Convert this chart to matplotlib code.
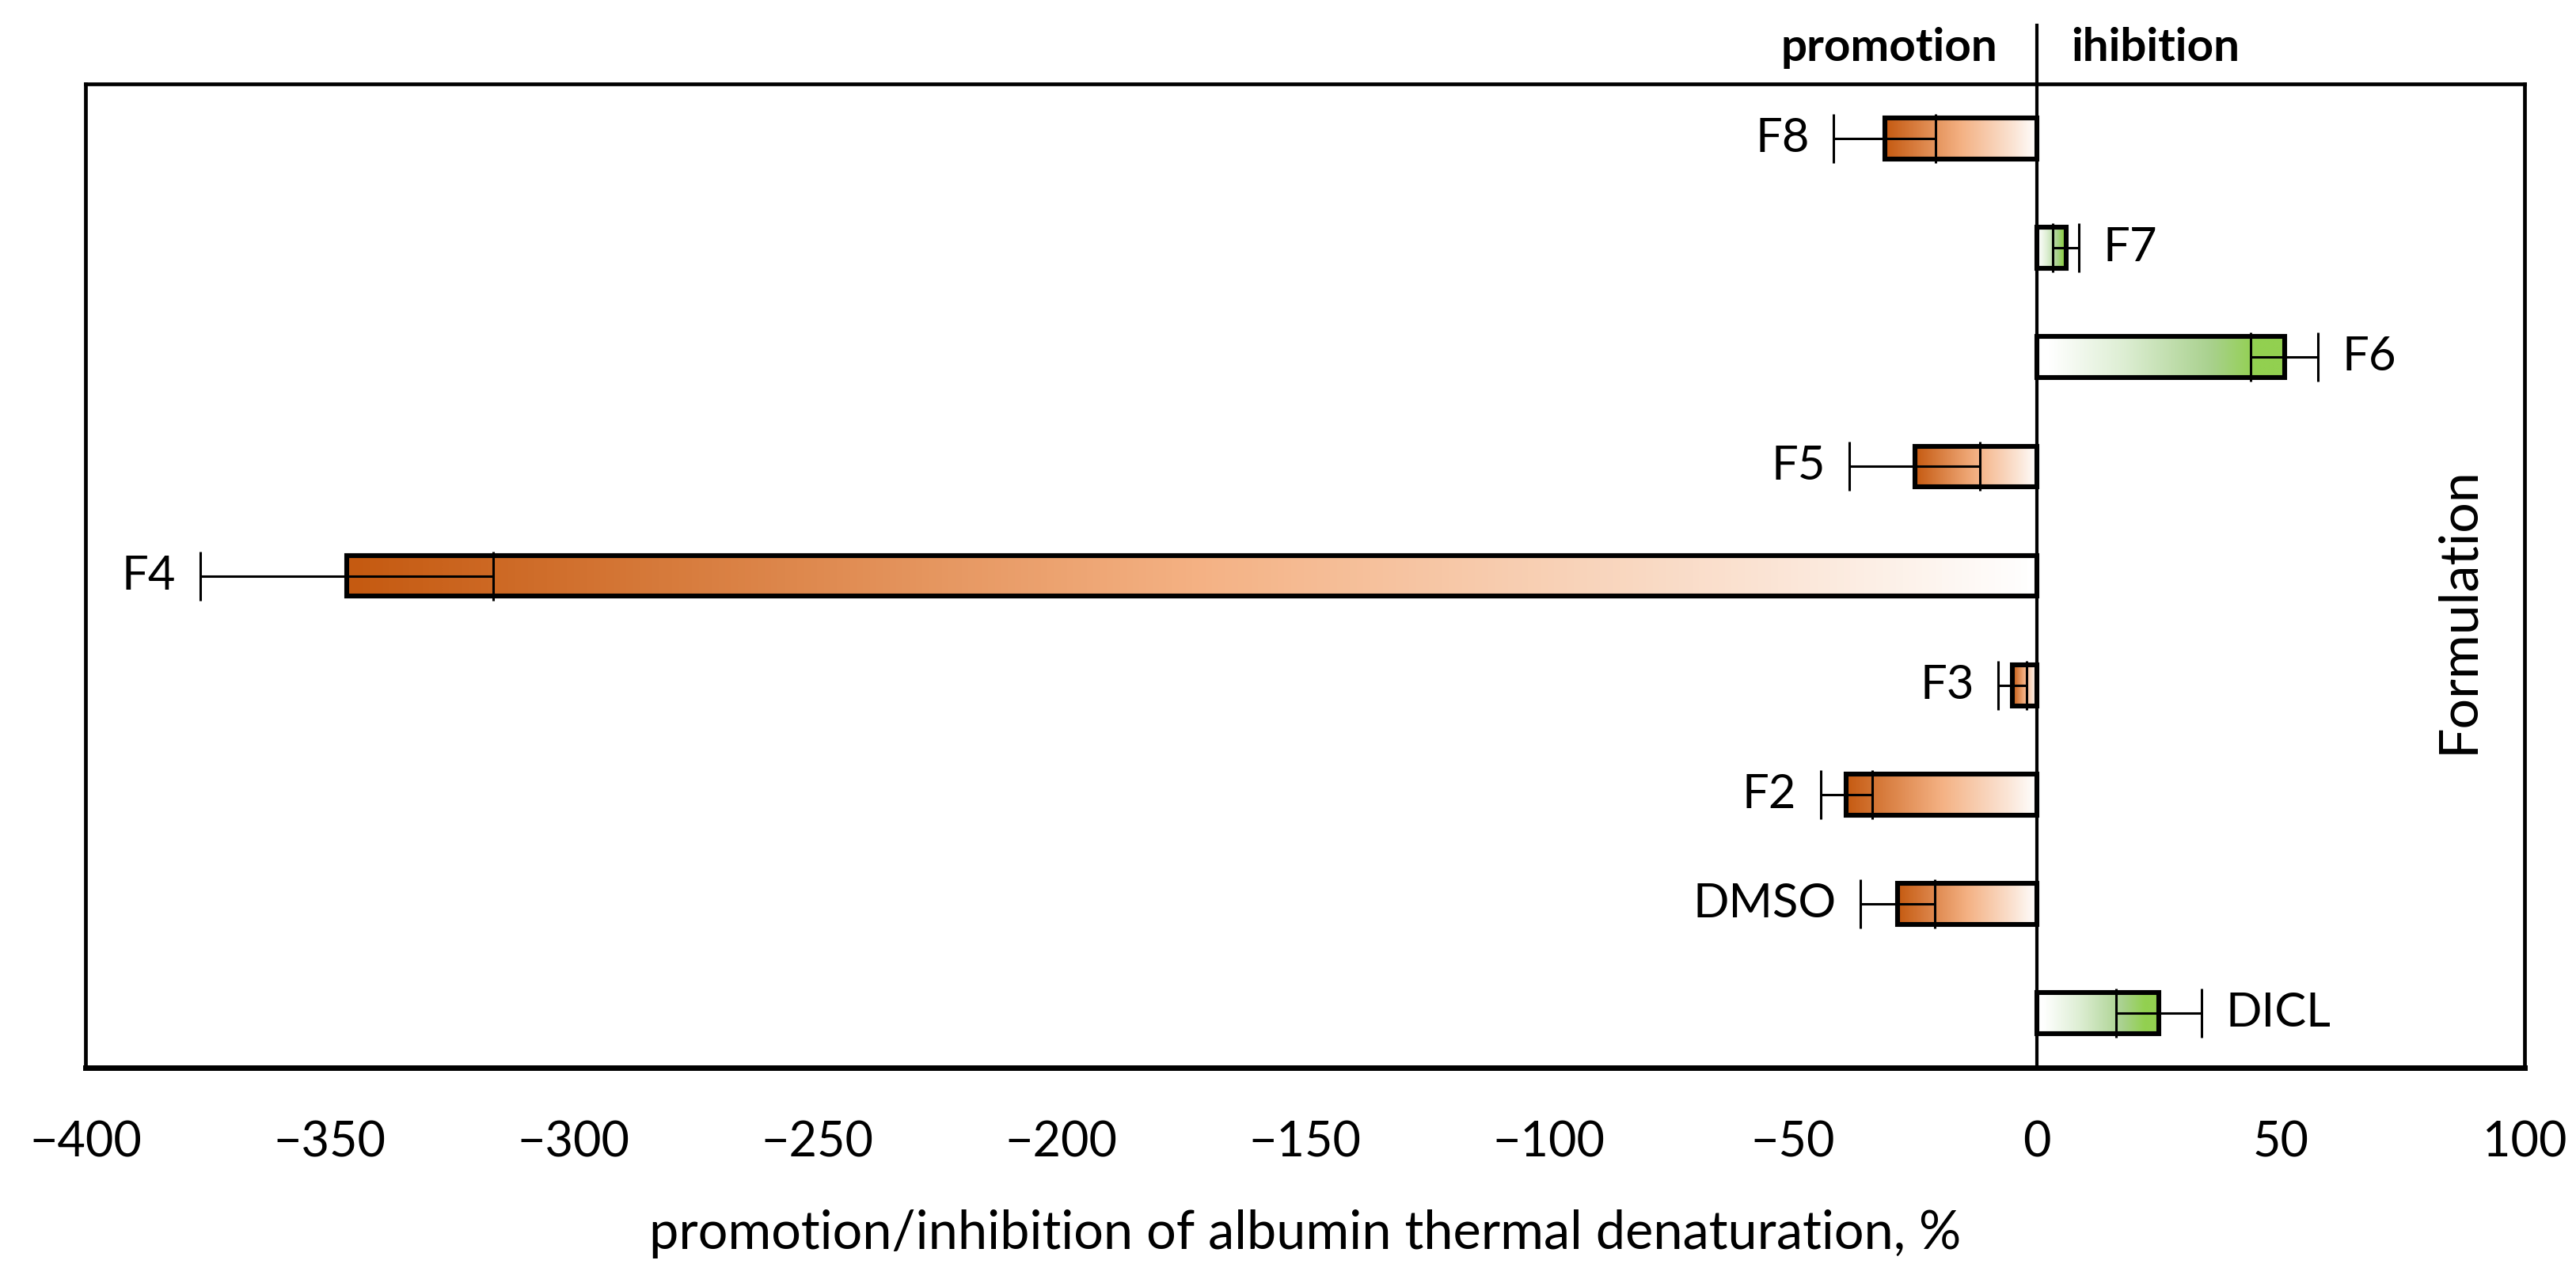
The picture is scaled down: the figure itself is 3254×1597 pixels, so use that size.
import numpy as np
import matplotlib
matplotlib.use("Agg")
import matplotlib.pyplot as plt
from matplotlib.colors import LinearSegmentedColormap

plt.rcParams['font.family'] = ['Lato', 'DejaVu Sans']

# data, top to bottom as in the chart
formulations = ['F8', 'F7', 'F6', 'F5', 'F4', 'F3', 'F2', 'DMSO', 'DICL']
values = [-31.2, 6.0, 50.8, -25.0, -346.5, -5.0, -39.0, -28.5, 25.0]
errors = [10.4, 2.7, 6.9, 13.4, 30.0, 2.9, 5.3, 7.6, 8.8]

xticks = [-400, -350, -300, -250, -200, -150, -100, -50, 0, 50, 100]

# gradients: value 0 = bar tip, 1 = at zero line
orange = LinearSegmentedColormap.from_list('orng', [
    (0.0, '#C55A11'), (0.5, '#F4B183'), (0.85, '#FBE5D6'), (1.0, '#FFFFFF')])
green = LinearSegmentedColormap.from_list('grn', [
    (0.0, '#92D050'), (0.12, '#92D050'), (0.3, '#A9D18E'),
    (0.65, '#DDEED3'), (0.95, '#FFFFFF'), (1.0, '#FFFFFF')])

fig = plt.figure(figsize=(16.275, 7.985), dpi=200)
ax = fig.add_axes([0.0332, 0.1553, 0.9465, 0.7783])

ypos = np.arange(len(formulations))
h = 0.375
bars = ax.barh(ypos, values, height=h, facecolor='none', edgecolor='black',
               linewidth=2.2, zorder=3)

grad = np.linspace(0, 1, 256).reshape(1, -1)
for bar, v, y in zip(bars, values, ypos):
    if v < 0:
        img = ax.imshow(grad, cmap=orange, extent=[v, 0, y - h / 2, y + h / 2],
                        aspect='auto', interpolation='bilinear', zorder=2)
    else:
        img = ax.imshow(grad[:, ::-1], cmap=green, extent=[0, v, y - h / 2, y + h / 2],
                        aspect='auto', interpolation='bilinear', zorder=2)
    img.set_clip_path(bar)

ax.errorbar(values, ypos, xerr=errors, fmt='none', ecolor='black',
            elinewidth=1.1, capsize=11, capthick=1.1, zorder=4)

# category labels beyond the error bars
for v, e, y, name in zip(values, errors, ypos, formulations):
    if v < 0:
        ax.annotate(name, (v - e, y), xytext=(-11, 0), textcoords='offset points',
                    ha='right', va='center', fontsize=21.5)
    else:
        ax.annotate(name, (v + e, y), xytext=(11, 0), textcoords='offset points',
                    ha='left', va='center', fontsize=21.5)

ax.set_xlim(-400, 100)
ax.set_ylim(-0.5, len(formulations) - 0.5)
ax.invert_yaxis()
ax.set_yticks([])
ax.set_xticks(xticks)
ax.tick_params(axis='x', length=0, pad=24, labelsize=22)

for s in ax.spines.values():
    s.set_linewidth(1.7)
ax.spines['bottom'].set_linewidth(2.5)

# zero line, running up past the frame
ax.plot([0, 0], [0, 1.0595], color='black', lw=1.5, transform=ax.get_xaxis_transform(),
        clip_on=False, zorder=5)
ax.text(-8, 1.0234, 'promotion', transform=ax.get_xaxis_transform(), ha='right',
        va='baseline', fontsize=21, fontweight='bold')
ax.text(7, 1.0234, 'ihibition', transform=ax.get_xaxis_transform(), ha='left',
        va='baseline', fontsize=21, fontweight='bold')

ax.text(0.9727, 0.465, 'Formulation', transform=ax.transAxes, rotation=90,
        ha='center', va='center', fontsize=24.5)

ax.set_xlabel('promotion/inhibition of albumin thermal denaturation, %', fontsize=24, labelpad=20)

fig.savefig('out.png', dpi=200)
